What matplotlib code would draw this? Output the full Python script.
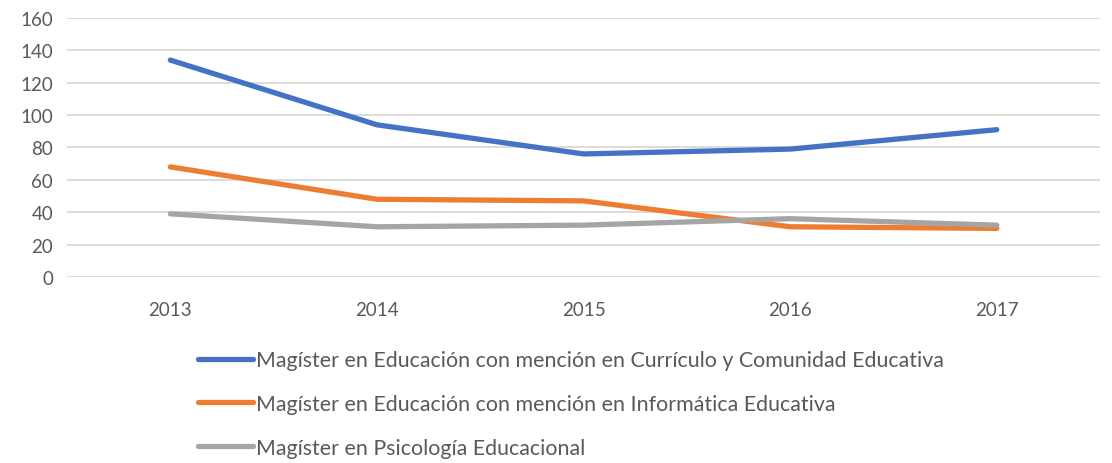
import matplotlib
matplotlib.use('Agg')
import matplotlib.pyplot as plt

years = ['2013', '2014', '2015', '2016', '2017']
curriculo = [134, 94, 76, 79, 91]
informatica = [68, 48, 47, 31, 30]
psicologia = [39, 31, 32, 36, 32]

labels = [
    'Magíster en Educación con mención en Currículo y Comunidad Educativa',
    'Magíster en Educación con mención en Informática Educativa',
    'Magíster en Psicología Educacional',
]
colors = ['#4472C4', '#ED7D31', '#A5A5A5']
text_color = '#595959'

plt.rcParams['font.family'] = ['Lato', 'DejaVu Sans']

fig = plt.figure(figsize=(11.12, 4.64), dpi=100)
ax = fig.add_axes([0.0603, 0.401, 0.929, 0.558])

x = list(range(len(years)))
lines = []
for vals, lab, col in zip([curriculo, informatica, psicologia], labels, colors):
    ln, = ax.plot(x, vals, color=col, lw=3.8, label=lab,
                  solid_capstyle='round', solid_joinstyle='round')
    lines.append(ln)

ax.set_xlim(-0.5, 4.5)
ax.set_ylim(0, 160)
ax.set_yticks(range(0, 161, 20))
ax.set_xticks(x)
ax.set_xticklabels(years)
ax.grid(axis='y', color='#D9D9D9', lw=1.3)
ax.set_axisbelow(True)
for s in ax.spines.values():
    s.set_visible(False)
ax.tick_params(length=0, labelsize=13.5, colors=text_color, pad=10)
ax.tick_params(axis='x', pad=17)

leg = fig.legend(handles=lines, loc='upper left', bbox_to_anchor=(0.170, 0.261),
                 frameon=False, fontsize=15.4, handlelength=2.6, handletextpad=0.15,
                 labelspacing=1.1, borderaxespad=0)
for t in leg.get_texts():
    t.set_color(text_color)

fig.savefig('out.png', dpi=100)
